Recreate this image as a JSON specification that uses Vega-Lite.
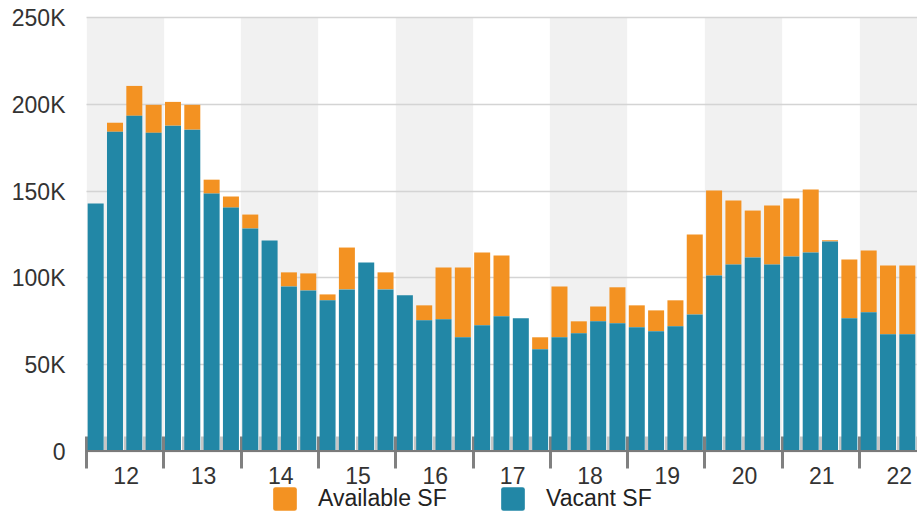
{
  "$schema": "https://vega.github.io/schema/vega-lite/v6.json",
  "width": 831,
  "height": 434,
  "autosize": {"type": "none"},
  "padding": {"left": 86, "top": 17, "right": 0, "bottom": 62},
  "background": "white",
  "config": {"view": {"stroke": null}, "font": "Liberation Sans"},
  "layer": [
    {
      "data": {
        "values": [
          {"t": 0, "quarter": "2012 Q1", "Vacant SF": 142500, "Available SF": 0},
          {"t": 1, "quarter": "2012 Q2", "Vacant SF": 183900, "Available SF": 5200},
          {"t": 2, "quarter": "2012 Q3", "Vacant SF": 193100, "Available SF": 17200},
          {"t": 3, "quarter": "2012 Q4", "Vacant SF": 183300, "Available SF": 16100},
          {"t": 4, "quarter": "2013 Q1", "Vacant SF": 187400, "Available SF": 13700},
          {"t": 5, "quarter": "2013 Q2", "Vacant SF": 185100, "Available SF": 14300},
          {"t": 6, "quarter": "2013 Q3", "Vacant SF": 148300, "Available SF": 8000},
          {"t": 7, "quarter": "2013 Q4", "Vacant SF": 140200, "Available SF": 6400},
          {"t": 8, "quarter": "2014 Q1", "Vacant SF": 128200, "Available SF": 8000},
          {"t": 9, "quarter": "2014 Q2", "Vacant SF": 121300, "Available SF": 0},
          {"t": 10, "quarter": "2014 Q3", "Vacant SF": 94800, "Available SF": 8100},
          {"t": 11, "quarter": "2014 Q4", "Vacant SF": 92500, "Available SF": 9800},
          {"t": 12, "quarter": "2015 Q1", "Vacant SF": 86800, "Available SF": 3400},
          {"t": 13, "quarter": "2015 Q2", "Vacant SF": 93100, "Available SF": 24100},
          {"t": 14, "quarter": "2015 Q3", "Vacant SF": 108600, "Available SF": 0},
          {"t": 15, "quarter": "2015 Q4", "Vacant SF": 93100, "Available SF": 9800},
          {"t": 16, "quarter": "2016 Q1", "Vacant SF": 89700, "Available SF": 0},
          {"t": 17, "quarter": "2016 Q2", "Vacant SF": 75300, "Available SF": 8600},
          {"t": 18, "quarter": "2016 Q3", "Vacant SF": 75900, "Available SF": 29800},
          {"t": 19, "quarter": "2016 Q4", "Vacant SF": 65500, "Available SF": 40200},
          {"t": 20, "quarter": "2017 Q1", "Vacant SF": 72400, "Available SF": 42000},
          {"t": 21, "quarter": "2017 Q2", "Vacant SF": 77600, "Available SF": 35000},
          {"t": 22, "quarter": "2017 Q3", "Vacant SF": 76400, "Available SF": 0},
          {"t": 23, "quarter": "2017 Q4", "Vacant SF": 58600, "Available SF": 6900},
          {"t": 24, "quarter": "2018 Q1", "Vacant SF": 65500, "Available SF": 29300},
          {"t": 25, "quarter": "2018 Q2", "Vacant SF": 67800, "Available SF": 6900},
          {"t": 26, "quarter": "2018 Q3", "Vacant SF": 74700, "Available SF": 8600},
          {"t": 27, "quarter": "2018 Q4", "Vacant SF": 73600, "Available SF": 20700},
          {"t": 28, "quarter": "2019 Q1", "Vacant SF": 71300, "Available SF": 12600},
          {"t": 29, "quarter": "2019 Q2", "Vacant SF": 69000, "Available SF": 12000},
          {"t": 30, "quarter": "2019 Q3", "Vacant SF": 71800, "Available SF": 15000},
          {"t": 31, "quarter": "2019 Q4", "Vacant SF": 78700, "Available SF": 46000},
          {"t": 32, "quarter": "2020 Q1", "Vacant SF": 101100, "Available SF": 48900},
          {"t": 33, "quarter": "2020 Q2", "Vacant SF": 107500, "Available SF": 36800},
          {"t": 34, "quarter": "2020 Q3", "Vacant SF": 111500, "Available SF": 27000},
          {"t": 35, "quarter": "2020 Q4", "Vacant SF": 107500, "Available SF": 33900},
          {"t": 36, "quarter": "2021 Q1", "Vacant SF": 112100, "Available SF": 33300},
          {"t": 37, "quarter": "2021 Q2", "Vacant SF": 114400, "Available SF": 36200},
          {"t": 38, "quarter": "2021 Q3", "Vacant SF": 120700, "Available SF": 700},
          {"t": 39, "quarter": "2021 Q4", "Vacant SF": 76400, "Available SF": 33900},
          {"t": 40, "quarter": "2022 Q1", "Vacant SF": 79900, "Available SF": 35600},
          {"t": 41, "quarter": "2022 Q2", "Vacant SF": 67200, "Available SF": 39700},
          {"t": 42, "quarter": "2022 Q3", "Vacant SF": 67200, "Available SF": 39700}
        ]
      },
      "transform": [{"fold": ["Available SF", "Vacant SF"], "as": ["series", "value"]}],
      "mark": {"type": "bar", "width": 16},
      "encoding": {
        "x": {
          "field": "t",
          "type": "quantitative",
          "scale": {"domain": [-0.5, 42.5], "nice": false, "zero": false, "padding": 0},
          "axis": {
            "title": null,
            "values": [-0.5, 0.5, 1.5, 2.5, 3.5, 4.5, 5.5, 6.5, 7.5, 8.5, 9.5, 10.5, 11.5, 12.5, 13.5, 14.5, 15.5, 16.5, 17.5, 18.5, 19.5, 20.5, 21.5, 22.5, 23.5, 24.5, 25.5, 26.5, 27.5, 28.5, 29.5, 30.5, 31.5, 32.5, 33.5, 34.5, 35.5, 36.5, 37.5, 38.5, 39.5, 40.5, 41.5, 42.5],
            "offset": -15,
            "domain": false,
            "tickSize": {"condition": {"test": "(datum.value + 0.5) % 4 === 0", "value": 32}, "value": 15},
            "tickColor": {"condition": {"test": "(datum.value + 0.5) % 4 === 0", "value": "#808080"}, "value": "#c6c6c6"},
            "tickWidth": 3,
            "labelExpr": "(datum.value + 0.5) % 4 === 2 ? '' + (12 + floor((datum.value + 0.5) / 4)) : ''",
            "labelOverlap": false,
            "labelFlush": false,
            "labelPadding": 14,
            "labelFontSize": 23,
            "labelColor": "#333333",
            "labelOffset": 1,
            "grid": true,
            "gridWidth": 77.3,
            "gridColor": "#f1f1f1",
            "gridOpacity": {"condition": {"test": "(datum.value + 0.5) % 8 === 2", "value": 1}, "value": 0}
          }
        },
        "y": {
          "field": "value",
          "type": "quantitative",
          "stack": "zero",
          "scale": {"domain": [0, 250000], "nice": false},
          "axis": {
            "title": null,
            "values": [0, 50000, 100000, 150000, 200000, 250000],
            "domain": false,
            "ticks": false,
            "labelPadding": 21,
            "labelFontSize": 23,
            "labelColor": "#333333",
            "labelOffset": 1.5,
            "labelExpr": "datum.value === 0 ? '0' : (datum.value / 1000) + 'K'",
            "gridColor": "#d4d4d4",
            "gridWidth": 1.5
          }
        },
        "color": {
          "field": "series",
          "type": "nominal",
          "scale": {"domain": ["Available SF", "Vacant SF"], "range": ["#f39222", "#2287a6"]},
          "legend": {
            "orient": "none",
            "legendX": 187,
            "legendY": 470,
            "direction": "horizontal",
            "title": null,
            "padding": 0,
            "symbolType": "M -0.8 -1 L 0.8 -1 Q 1 -1 1 -0.8 L 1 0.8 Q 1 1 0.8 1 L -0.8 1 Q -1 1 -1 0.8 L -1 -0.8 Q -1 -1 -0.8 -1 Z",
            "symbolSize": 560,
            "symbolStrokeWidth": 0,
            "symbolOpacity": 1,
            "labelFontSize": 23,
            "labelColor": "#222222",
            "labelOffset": 21,
            "columnPadding": 54
          }
        },
        "order": {"field": "series", "sort": "descending"}
      }
    },
    {
      "data": {"values": [{}]},
      "mark": {"type": "rule", "color": "#7a7a7a", "strokeWidth": 2},
      "encoding": {"y": {"datum": 0}}
    }
  ]
}
